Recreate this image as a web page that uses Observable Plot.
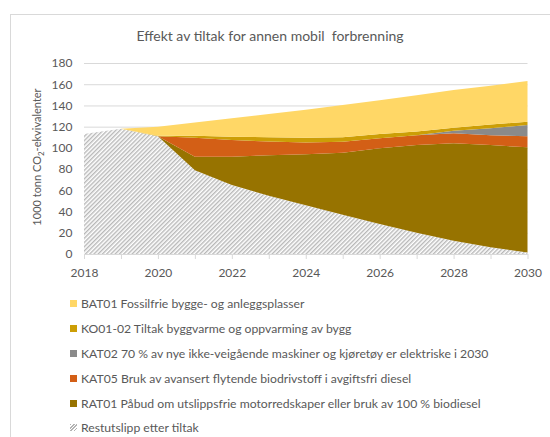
<!DOCTYPE html>
<html>
<head>
<meta charset="utf-8">
<script src="https://cdn.jsdelivr.net/npm/d3@7"></script>
<script src="https://cdn.jsdelivr.net/npm/@observablehq/plot@0.6"></script>
<style>
  html, body { margin: 0; padding: 0; background: #fff; }
  #wrap { position: relative; width: 550px; height: 437px; overflow: hidden; font-family: Lato, "Open Sans", sans-serif; color: #595959; }
  #frame { position: absolute; left: 10px; top: 14px; width: 600px; height: 500px; border: 1px solid #d9d9d9; box-sizing: border-box; }
  #title { position: absolute; left: 0; width: 540px; top: 27px; text-align: center; font-size: 14px; color: #595959; }
  #chart { position: absolute; left: 0; top: 50px; }
  #ytitle { position: absolute; left: 38px; top: 157px; transform: translate(-50%, -50%) rotate(-90deg); white-space: nowrap; font-size: 11px; color: #595959; }
  #legend { position: absolute; left: 70px; top: 291px; }
  .item { height: 24.9px; display: flex; align-items: center; font-size: 12.2px; color: #595959; white-space: nowrap; }
  .sw { width: 7px; height: 7px; margin-right: 4px; flex: none; }
</style>
</head>
<body>
<div id="wrap">
  <div id="frame"></div>
  <div id="title">Effekt av tiltak for annen mobil&nbsp; forbrenning</div>
  <div id="ytitle">1000 tonn CO<sub style="font-size:8px">2</sub>-ekvivalenter</div>
  <div id="chart"></div>
  <div id="legend"></div>
</div>
<script>
const years = [2018, 2019, 2020, 2021, 2022, 2023, 2024, 2025, 2026, 2027, 2028, 2029, 2030];
const restutslipp = [113, 118, 111, 79, 65, 55, 46, 37, 28.3, 20, 12.6, 6.3, 1.3];
const rat01 = [0, 0, 0, 12.7, 26.7, 38, 48, 58.5, 71.3, 82.7, 91.7, 96.4, 99.2];
const kat05 = [0, 0, 0, 17.9, 15.7, 13, 11, 10.4, 9.4, 9.3, 9.4, 9.3, 10.5];
const kat02 = [0, 0, 0, 0, 0, 0, 0, 0, 0, 0, 2.5, 6.5, 10.6];
const ko01 = [0, 0, 0.5, 1.9, 3.2, 4, 4.6, 4.1, 4, 3.5, 2.8, 3.5, 3.1];
const bat01 = [0, 0, 8.5, 12.5, 17.4, 22, 26.4, 30.4, 32, 34, 35.6, 36.6, 38.3];
const yTicks = [0, 20, 40, 60, 80, 100, 120, 140, 160, 180];

const seriesNames = [
  "Restutslipp etter tiltak",
  "RAT01 Påbud om utslippsfrie motorredskaper eller bruk av 100 % biodiesel",
  "KAT05 Bruk av avansert flytende biodrivstoff i avgiftsfri diesel",
  "KAT02 70 % av nye ikke-veigående maskiner og kjøretøy er elektriske i 2030",
  "KO01-02 Tiltak byggvarme og oppvarming av bygg",
  "BAT01 Fossilfrie bygge- og anleggsplasser"
];
const seriesValues = [restutslipp, rat01, kat05, kat02, ko01, bat01];
const seriesColors = ["url(#hatch)", "#977300", "#D35F16", "#8A8A8A", "#CC9E06", "#FFD766"];

const data = years.flatMap((year, i) =>
  seriesNames.map((name, j) => ({ year, series: name, value: seriesValues[j][i] }))
);

const svg = Plot.plot({
  width: 550,
  height: 240,
  marginLeft: 84,
  marginRight: 22.5,
  marginTop: 13,
  marginBottom: 36,
  style: { fontFamily: "Lato, 'Open Sans', sans-serif", fontSize: "12px", color: "#595959", background: "transparent" },
  x: { domain: [2018, 2030] },
  y: { domain: [0, 180] },
  color: { type: "ordinal", domain: seriesNames, range: seriesColors },
  marks: [
    Plot.gridY(yTicks, { stroke: "#d9d9d9", strokeOpacity: 1 }),
    Plot.areaY(data, { x: "year", y: "value", z: "series", fill: "series", order: seriesNames, fillOpacity: 1 }),
    Plot.ruleY([0], { stroke: "#d9d9d9" }),
    Plot.axisX(years, { tickSize: 5, tickPadding: 9, stroke: "#d9d9d9", fill: "#595959", fontSize: 12,
      tickFormat: d => d % 2 === 0 ? String(d) : "", label: null }),
    Plot.axisY(yTicks, { tickSize: 0, tickPadding: 12, fill: "#595959", fontSize: 12, label: null })
  ]
});

d3.select(svg).insert("defs", ":first-child").html(
  `<pattern id="hatch" patternUnits="userSpaceOnUse" width="3" height="3" patternTransform="rotate(45)">
     <rect width="3" height="3" fill="#ffffff"></rect>
     <rect x="0" y="0" width="1.4" height="3" fill="#b8b8b8"></rect>
   </pattern>`
);
document.getElementById("chart").appendChild(svg);

const legendOrder = [5, 4, 3, 2, 1, 0];
const legend = document.getElementById("legend");
legendOrder.forEach(j => {
  const item = document.createElement("div");
  item.className = "item";
  const sw = document.createElement("span");
  sw.className = "sw";
  if (j === 0) {
    sw.style.background = "repeating-linear-gradient(135deg, #b3b3b3 0 1.2px, #ffffff 1.2px 2.4px)";
  } else {
    sw.style.background = seriesColors[j];
  }
  item.appendChild(sw);
  const t = document.createElement("span");
  t.textContent = seriesNames[j];
  item.appendChild(t);
  legend.appendChild(item);
});
</script>
</body>
</html>
